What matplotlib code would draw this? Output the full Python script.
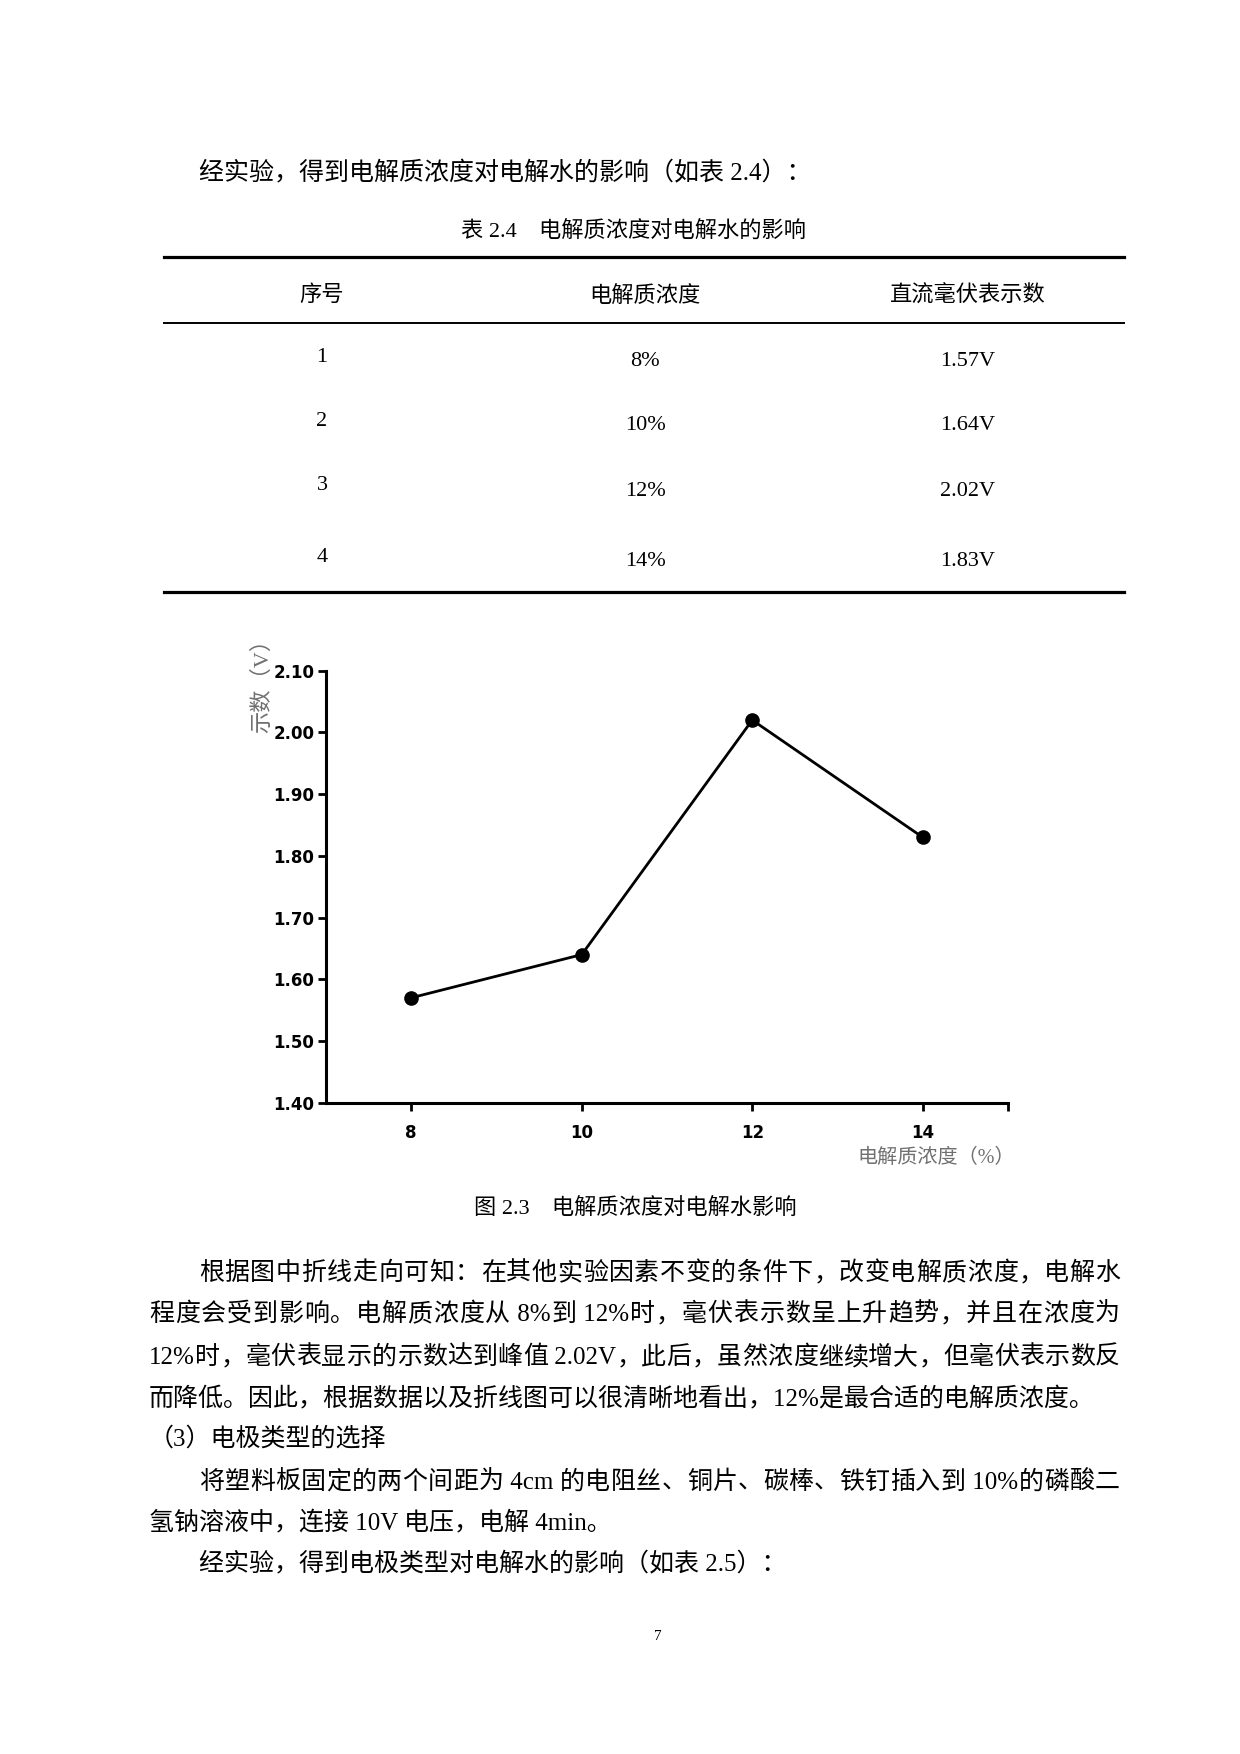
import re
import matplotlib
matplotlib.use('Agg')
import matplotlib.pyplot as plt
from matplotlib.lines import Line2D

# 数据
seq = [1, 2, 3, 4]
concentration = [8, 10, 12, 14]
voltage = [1.57, 1.64, 2.02, 1.83]
headers = ['序号', '电解质浓度', '直流毫伏表示数']
yticks = [1.40, 1.50, 1.60, 1.70, 1.80, 1.90, 2.00, 2.10]
xticks = [8, 10, 12, 14]

intro = '经实验，得到电解质浓度对电解水的影响（如表 2.4）：'
table_title = '表 2.4　电解质浓度对电解水的影响'
fig_caption = '图 2.3　电解质浓度对电解水影响'
body_lines = [
    '根据图中折线走向可知：在其他实验因素不变的条件下，改变电解质浓度，电解水',
    '程度会受到影响。电解质浓度从 8%到 12%时，毫伏表示数呈上升趋势，并且在浓度为',
    '12%时，毫伏表显示的示数达到峰值 2.02V，此后，虽然浓度继续增大，但毫伏表示数反',
    '而降低。因此，根据数据以及折线图可以很清晰地看出，12%是最合适的电解质浓度。',
    '（3）电极类型的选择',
    '将塑料板固定的两个间距为 4cm 的电阻丝、铜片、碳棒、铁钉插入到 10%的磷酸二',
    '氢钠溶液中，连接 10V 电压，电解 4min。',
    '经实验，得到电极类型对电解水的影响（如表 2.5）：',
]
justify = [True, True, True, False, False, True, False, False]

W, H = 1240, 1754
SERIF = ['Liberation Serif', 'Noto Sans CJK SC']

fig = plt.figure(figsize=(W / 100, H / 100), dpi=100)
renderer = fig.canvas.get_renderer()


def fx(x):
    return x / W


def fy(y):
    return 1 - y / H


def put(x, y, s, size=18, family=SERIF, ha='left', **kw):
    return fig.text(fx(x), fy(y), s, fontsize=size, family=family, ha=ha,
                    va='center', **kw)


def put_line(x0, y, s, right=None, size=18):
    # 两端对齐：逐字放置，把余量平均分到字间
    base = fy(y + 9)
    if right is None:
        fig.text(fx(x0), base, s, fontsize=size, family=SERIF, va='baseline')
        return
    tokens = re.findall(r'[\x20-\x7e]+|.', s)
    widths = []
    for tk in tokens:
        t = fig.text(0, 0, tk, fontsize=size, family=SERIF)
        widths.append(t.get_window_extent(renderer).width)
        t.remove()
    gap = (right - x0 - sum(widths)) / (len(tokens) - 1)
    x = x0
    for tk, w in zip(tokens, widths):
        fig.text(fx(x), base, tk, fontsize=size, family=SERIF, va='baseline')
        x += w + gap


def hline(y, x0, x1, lw):
    fig.add_artist(Line2D([fx(x0), fx(x1)], [fy(y), fy(y)], color='black', lw=lw,
                          transform=fig.transFigure))


# 正文上部
put_line(199, 171, intro)
put(634, 231, table_title, size=16, ha='center')

# 表格
hline(257, 164, 1124, 2.3)
hline(323, 164, 1124, 1.4)
hline(592, 164, 1124, 2.3)
col_x = [322, 645, 968]
for cx, h in zip(col_x, headers):
    put(cx, 296, h, size=16, ha='center')
row_y = [358, 421, 485, 557]
row_y2 = [361, 425, 492, 561]
for i in range(len(seq)):
    put(col_x[0], row_y[i], str(seq[i]), size=16, ha='center')
    put(col_x[1], row_y2[i], f'{concentration[i]}%', size=16, ha='center')
    put(col_x[2], row_y2[i], f'{voltage[i]:.2f}V', size=16, ha='center')

# 折线图
ax = fig.add_axes([fx(326), fy(1102.7), 682 / W, 432 / H])
ax.plot(concentration, voltage, color='black', lw=2.0, marker='o', markersize=9.5)
ax.set_xlim(7, 15)
ax.set_ylim(1.40, 2.10)
ax.set_xticks(xticks + [15])
ax.set_xticklabels([str(v) for v in xticks] + [''])
ax.set_yticks(yticks)
ax.set_yticklabels([f'{v:.2f}' for v in yticks])
for side in ['top', 'right']:
    ax.spines[side].set_visible(False)
for side in ['left', 'bottom']:
    ax.spines[side].set_linewidth(2.2)
ax.tick_params(axis='both', direction='out', length=5.5, width=2.0, labelsize=12,
               pad=3)
ax.tick_params(axis='x', pad=10)
for lab in ax.get_xticklabels() + ax.get_yticklabels():
    lab.set_fontweight('bold')
fig.text(fx(263), fy(680), '示数（V）', rotation=90, fontsize=16, family=SERIF,
         color='#707070', ha='center', va='center')
fig.text(fx(936), fy(1158), '电解质浓度（%）', fontsize=14.5, family=SERIF,
         color='#707070', ha='center', va='center')

put(635, 1208, fig_caption, size=16, ha='center')

# 正文下部
line_y = [1271, 1312, 1355, 1396, 1437, 1480, 1520, 1562]
line_x = [199, 149, 149, 149, 149, 199, 149, 199]
for x, y, s, j in zip(line_x, line_y, body_lines, justify):
    put_line(x, y, s, right=1120 if j else None)

put(654, 1637, '7', size=11)

fig.savefig('out.png', dpi=100)
